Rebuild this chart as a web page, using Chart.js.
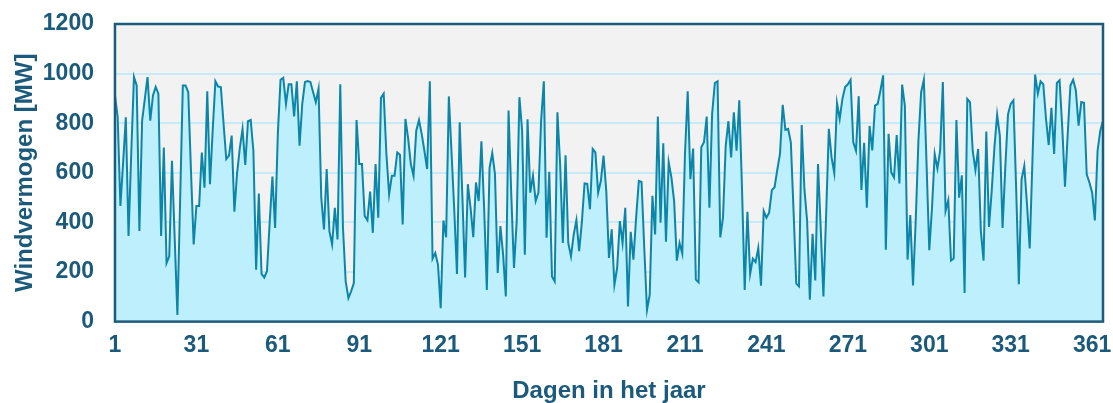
<!DOCTYPE html>
<html>
<head>
<meta charset="utf-8">
<script src="https://cdn.jsdelivr.net/npm/chart.js@4.4.1/dist/chart.umd.min.js"></script>
<style>
  html, body { margin: 0; padding: 0; background: #ffffff; }
  #wrap { width: 1113px; height: 403px; }
</style>
</head>
<body>
<div id="wrap"><canvas id="c" width="1113" height="403"></canvas></div>
<script>
// Daily wind power output over one year (MW)
const windMW = [
  912, 824, 466, 640, 824, 345, 680, 986, 952, 365,
  810, 898, 986, 810, 912, 946, 919, 345, 702, 236,
  263, 648, 338, 27, 486, 952, 952, 925, 608, 311,
  466, 466, 682, 540, 929, 554, 770, 969, 948, 946,
  800, 655, 669, 750, 443, 600, 700, 777, 632, 808,
  813, 689, 209, 516, 192, 178, 203, 400, 585, 378,
  757, 975, 983, 878, 957, 957, 827, 969, 709, 878,
  966, 970, 966, 925, 885, 939, 500, 372, 615, 365,
  311, 459, 331, 957, 378, 162, 95, 122, 155, 813,
  635, 635, 426, 409, 524, 358, 635, 419, 902, 919,
  676, 513, 588, 588, 682, 673, 392, 817, 740, 635,
  588, 770, 813, 757, 689, 615, 969, 254, 277, 230,
  54, 408, 340, 908, 680, 450, 192, 804, 500, 178,
  554, 459, 340, 561, 486, 727, 459, 128, 620, 680,
  594, 196, 385, 270, 101, 851, 513, 216, 405, 905,
  770, 270, 816, 520, 588, 486, 520, 811, 969, 338,
  604, 182, 162, 844, 635, 317, 671, 317, 263, 351,
  409, 284, 400, 557, 555, 453, 696, 682, 520, 567,
  669, 527, 257, 372, 149, 216, 405, 317, 459, 61,
  362, 250, 419, 567, 563, 297, 47, 108, 507, 351,
  827, 399, 719, 322, 642, 581, 486, 246, 317, 274,
  676, 929, 574, 698, 169, 158, 703, 723, 827, 459,
  838, 962, 969, 340, 419, 709, 808, 662, 844, 689,
  892, 540, 128, 443, 192, 254, 240, 297, 145, 446,
  419, 439, 530, 542, 612, 676, 874, 773, 777, 723,
  446, 153, 142, 793, 534, 405, 88, 354, 166, 635,
  378, 101, 432, 777, 662, 599, 881, 817, 898, 946,
  957, 975, 723, 689, 909, 531, 721, 459, 789, 690,
  871, 878, 932, 993, 290, 757, 601, 581, 752, 557,
  956, 871, 250, 430, 146, 405, 730, 925, 975, 635,
  288, 459, 676, 617, 689, 966, 446, 489, 246, 254,
  813, 500, 590, 115, 898, 885, 689, 611, 696, 365,
  246, 766, 382, 527, 703, 834, 750, 378, 621, 835,
  878, 892, 540, 151, 574, 628, 473, 295, 648, 996,
  919, 969, 957, 818, 712, 862, 676, 962, 973, 780,
  544, 757, 952, 975, 932, 790, 885, 882, 594, 561,
  520, 408, 689, 770, 810
];

// Day numbers used as categories
const days = [];
for (let d = 1; d <= windMW.length; d++) days.push(d);

// Days that carry a label on the horizontal axis
const dayTicks = [1, 31, 61, 91, 121, 151, 181, 211, 241, 271, 301, 331, 361];

// Value axis ticks
const mwTicks = [0, 200, 400, 600, 800, 1000, 1200];

const textColor = '#1b5a7a';
const fontFamily = '"Liberation Sans", Arial, Helvetica, sans-serif';

// Grey plot background behind grid and series
const plotBackground = {
  id: 'plotBackground',
  beforeDraw(chart) {
    const { ctx, chartArea: a } = chart;
    ctx.save();
    ctx.fillStyle = '#f2f2f2';
    ctx.fillRect(a.left, a.top, a.right - a.left, a.bottom - a.top);
    ctx.restore();
  }
};

// Dark frame around the plot area
const plotFrame = {
  id: 'plotFrame',
  afterDatasetsDraw(chart) {
    const { ctx, chartArea: a } = chart;
    ctx.save();
    ctx.strokeStyle = '#1d5b7b';
    ctx.lineWidth = 2.5;
    ctx.strokeRect(a.left, a.top, a.right - a.left, a.bottom - a.top);
    ctx.restore();
  }
};

new Chart(document.getElementById('c'), {
  type: 'line',
  data: {
    labels: days,
    datasets: [{
      label: 'Windvermogen',
      data: windMW,
      borderColor: '#0b86a8',
      borderWidth: 2,
      backgroundColor: '#bdeffc',
      fill: 'origin',
      pointRadius: 0,
      tension: 0
    }]
  },
  options: {
    responsive: false,
    animation: false,
    layout: { padding: { left: 7, right: 9, top: 24, bottom: 0 } },
    plugins: {
      legend: { display: false },
      tooltip: { enabled: false }
    },
    scales: {
      x: {
        type: 'category',
        offset: false,
        grid: { display: false, drawTicks: false },
        border: { display: false },
        ticks: {
          autoSkip: false,
          maxRotation: 0,
          minRotation: 0,
          padding: 10,
          color: textColor,
          font: { family: fontFamily, size: 23, weight: 'bold' },
          callback: function (value, index) {
            const d = days[index];
            return dayTicks.includes(d) ? String(d) : '';
          }
        },
        title: {
          display: true,
          text: 'Dagen in het jaar',
          color: textColor,
          font: { family: fontFamily, size: 24, weight: 'bold' },
          padding: { top: 8, bottom: -3 }
        }
      },
      y: {
        min: 0,
        max: 1200,
        grid: {
          color: '#c6eaf8',
          lineWidth: 2,
          drawTicks: true,
          tickLength: 18,
          tickColor: 'rgba(0,0,0,0)'
        },
        border: { display: false },
        afterBuildTicks(axis) {
          axis.ticks = mwTicks.map(v => ({ value: v }));
        },
        ticks: {
          padding: 3,
          color: textColor,
          font: { family: fontFamily, size: 23, weight: 'bold' },
          callback: function (value) { return String(value); }
        },
        title: {
          display: true,
          text: 'Windvermogen [MW]',
          color: textColor,
          font: { family: fontFamily, size: 24, weight: 'bold' },
          padding: { top: 4, bottom: 0 }
        }
      }
    }
  },
  plugins: [plotBackground, plotFrame]
});
</script>
</body>
</html>
